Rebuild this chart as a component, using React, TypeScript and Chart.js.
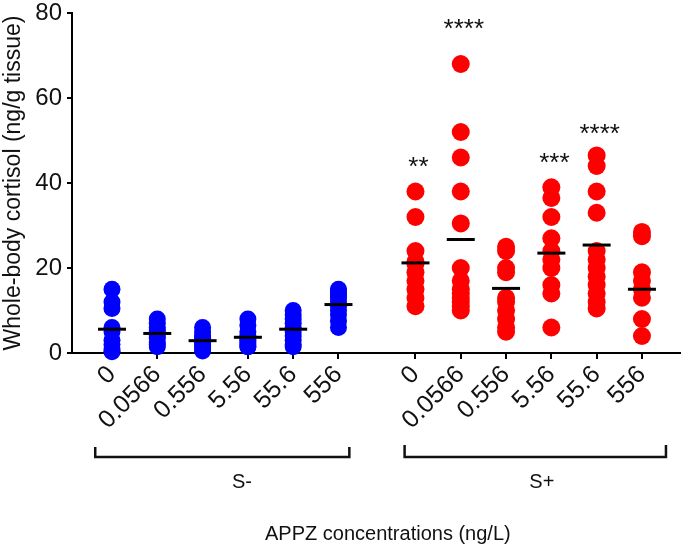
import React, { useEffect, useRef } from 'react';
import { Chart, registerables } from 'chart.js';

Chart.register(...registerables);

// ---- data ----
const concentrations = ['0', '0.0566', '0.556', '5.56', '55.6', '556'];
const groupNames = ['S-', 'S+'];
const yTickValues = [0, 20, 40, 60, 80];
const axisTitleY = 'Whole-body cortisol (ng/g tissue)';
const axisTitleX = 'APPZ concentrations (ng/L)';

const sMinusValues = [
  [15, 12, 10.5, 6, 5, 3, 2, 1, 0.5, 0.3],
  [8, 7, 6, 5.5, 5, 4, 3.5, 2.5, 2, 1.5],
  [6, 5, 4, 3.5, 3, 2.5, 2, 1.5, 1, 0.5],
  [8, 6.5, 5, 4, 3.5, 3, 2.5, 2, 1.5, 1.5],
  [10, 9, 8, 7, 6, 5, 4, 3, 2, 1.5],
  [15, 14.5, 14, 13.5, 13, 12, 11, 10, 9, 7.5, 6],
];
const sPlusValues = [
  [38, 32, 24, 21.5, 21, 19, 17, 15, 13, 11],
  [68, 52, 46, 38, 30.5, 20, 17, 15, 14, 13, 12, 11, 10],
  [25, 24, 20, 19, 13, 12, 10, 8, 6, 5],
  [39, 36.5, 32, 27, 24, 22, 20, 16, 14, 6],
  [46.5, 44, 38, 33, 24, 22, 20, 18, 16, 14, 12, 10.5],
  [28.5, 27.5, 19, 17, 15, 13, 8, 4],
];
const sMinusMeans = [5.6, 4.6, 2.9, 3.7, 5.6, 11.4];
const sPlusMeans = [21.2, 26.7, 15.2, 23.5, 25.4, 15.0];
const sPlusStars = ['**', '****', '', '***', '****', ''];
const sPlusStarLevels = [44.6, 77, 0, 45.5, 52.3, 0];

// ---- layout (category positions on a linear x scale) ----
const GROUP_GAP = 6.7;
const sMinusX = concentrations.map((_, i) => i);
const sPlusX = concentrations.map((_, i) => i + GROUP_GAP);
const allX = [...sMinusX, ...sPlusX];
const FONT = '"Liberation Sans", Arial, Helvetica, sans-serif';

function pointsFor(xs: number[], values: number[][]) {
  const out: { x: number; y: number }[] = [];
  values.forEach((col, i) => col.forEach((v) => out.push({ x: xs[i], y: v })));
  return out;
}

const annotations = {
  id: 'annotations',
  afterDraw(chart: any) {
    const { ctx } = chart;
    const x = chart.scales.x;
    const y = chart.scales.y;
    ctx.save();
    // significance stars
    ctx.fillStyle = '#111';
    ctx.font = `26px ${FONT}`;
    ctx.textAlign = 'center';
    ctx.textBaseline = 'middle';
    sPlusStars.forEach((s, i) => {
      if (!s) return;
      ctx.fillText(s, x.getPixelForValue(sPlusX[i]) + 3, y.getPixelForValue(sPlusStarLevels[i]) + 4);
    });
    // group brackets
    const lineY = x.top + 104;
    const brackets = [
      { from: sMinusX[0] - 0.37, to: sMinusX[5] + 0.24, tip: 10, label: groupNames[0], lx: 2.87 },
      { from: sPlusX[0] - 0.24, to: sPlusX[5] + 0.53, tip: 12, label: groupNames[1], lx: 9.49 },
    ];
    ctx.strokeStyle = '#111';
    ctx.lineWidth = 2.5;
    ctx.lineJoin = 'miter';
    ctx.font = `20px ${FONT}`;
    brackets.forEach((b) => {
      const x1 = x.getPixelForValue(b.from);
      const x2 = x.getPixelForValue(b.to);
      ctx.beginPath();
      ctx.moveTo(x1, lineY - b.tip);
      ctx.lineTo(x1, lineY);
      ctx.lineTo(x2, lineY);
      ctx.lineTo(x2, lineY - b.tip);
      ctx.stroke();
      ctx.fillText(b.label, x.getPixelForValue(b.lx), lineY + 25);
    });
    // x axis title
    ctx.font = `20px ${FONT}`;
    ctx.fillText(axisTitleX, x.getPixelForValue(6.09), x.top + 181);
    ctx.restore();
  },
};

export default function App() {
  const ref = useRef<HTMLCanvasElement>(null);
  useEffect(() => {
    if (!ref.current) return;
    Chart.defaults.font.family = FONT;
    Chart.defaults.color = '#111';
    const chart = new Chart(ref.current, {
      type: 'scatter',
      data: {
        datasets: [
          {
            label: 'S- mean',
            data: sMinusX.map((x, i) => ({ x, y: sMinusMeans[i] })),
            pointStyle: 'line',
            pointRadius: 14,
            borderColor: '#000',
            backgroundColor: '#000',
            pointBorderWidth: 3,
            order: 0,
          },
          {
            label: 'S+ mean',
            data: sPlusX.map((x, i) => ({ x, y: sPlusMeans[i] })),
            pointStyle: 'line',
            pointRadius: 14,
            borderColor: '#000',
            backgroundColor: '#000',
            pointBorderWidth: 3,
            order: 0,
          },
          {
            label: 'S-',
            data: pointsFor(sMinusX, sMinusValues),
            pointRadius: 8.5,
            backgroundColor: '#0000ff',
            borderWidth: 0,
            pointBorderWidth: 0,
            order: 1,
          },
          {
            label: 'S+',
            data: pointsFor(sPlusX, sPlusValues),
            pointRadius: 9,
            backgroundColor: '#ff0000',
            borderWidth: 0,
            pointBorderWidth: 0,
            order: 1,
          },
        ],
      },
      options: {
        responsive: false,
        animation: false,
        clip: false as any,
        layout: { autoPadding: false, padding: { top: 13, right: 5, left: 0, bottom: 0 } },
        plugins: { legend: { display: false }, tooltip: { enabled: false } },
        scales: {
          x: {
            type: 'linear',
            bounds: 'data',
            min: -0.883,
            max: 12.54,
            afterBuildTicks: (scale: any) => {
              scale.ticks = allX.map((v) => ({ value: v }));
            },
            afterFit: (scale: any) => {
              scale.height = 196;
              scale.paddingLeft = 0;
              scale.paddingRight = 0;
            },
            grid: { drawOnChartArea: false, drawTicks: true, tickLength: 6, color: '#000', lineWidth: 2 },
            border: { display: true, color: '#000', width: 2 },
            ticks: {
              autoSkip: false,
              maxRotation: 45,
              minRotation: 45,
              padding: 1,
              color: '#111',
              font: { size: 25, family: FONT },
              callback: (_v: any, index: number) => concentrations[index % concentrations.length],
            },
          },
          y: {
            type: 'linear',
            min: 0,
            max: 80,
            afterBuildTicks: (scale: any) => {
              scale.ticks = yTickValues.map((v) => ({ value: v }));
            },
            afterFit: (scale: any) => {
              scale.width = 72;
              scale.paddingTop = 0;
              scale.paddingBottom = 0;
            },
            grid: { drawOnChartArea: false, drawTicks: true, tickLength: 5, color: '#000', lineWidth: 2 },
            border: { display: true, color: '#000', width: 2 },
            ticks: { padding: 5, color: '#111', font: { size: 24, family: FONT } },
            title: {
              display: true,
              text: axisTitleY,
              color: '#111',
              font: { size: 23, family: FONT },
              padding: { top: 0, bottom: 0 },
            },
          },
        },
      },
      plugins: [annotations],
    });
    return () => chart.destroy();
  }, []);
  return (
    <div style={{ position: 'absolute', left: 0, top: 0, width: 685, height: 549, background: '#fff' }}>
      <canvas ref={ref} width={685} height={549} style={{ display: 'block' }} />
    </div>
  );
}
